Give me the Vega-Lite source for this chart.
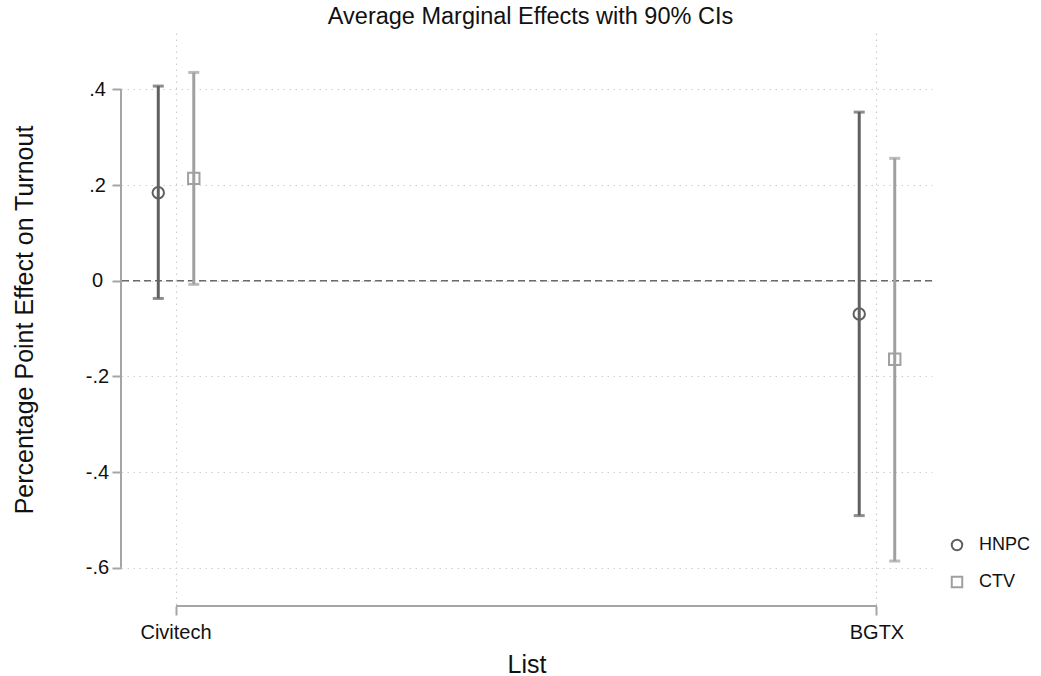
{
  "$schema": "https://vega.github.io/schema/vega-lite/v6.json",
  "autosize": "none",
  "padding": {"left": 121, "top": 33, "right": 109, "bottom": 70},
  "width": 811,
  "height": 573,
  "background": "white",
  "title": {
    "text": "Average Marginal Effects with 90% CIs",
    "fontSize": 23.5,
    "fontWeight": "normal",
    "color": "#111111",
    "anchor": "middle",
    "frame": "group",
    "offset": 5,
    "dx": 4
  },
  "config": {
    "font": "Liberation Sans",
    "view": {"stroke": null},
    "legend": {
      "title": null,
      "orient": "none",
      "legendX": 827,
      "legendY": 503,
      "padding": 0,
      "labelFontSize": 18,
      "labelColor": "#111111",
      "labelOffset": 13,
      "symbolSize": 110,
      "symbolStrokeWidth": 2,
      "rowPadding": 17
    }
  },
  "data": {
    "values": [
      {"list": "Civitech", "group": "HNPC", "est": 0.184, "lo": -0.037, "hi": 0.407},
      {"list": "Civitech", "group": "CTV", "est": 0.214, "lo": -0.0075, "hi": 0.4355},
      {"list": "BGTX", "group": "HNPC", "est": -0.0696, "lo": -0.491, "hi": 0.3526},
      {"list": "BGTX", "group": "CTV", "est": -0.164, "lo": -0.586, "hi": 0.256}
    ]
  },
  "encoding": {
    "x": {
      "field": "list",
      "type": "nominal",
      "sort": ["Civitech", "BGTX"],
      "scale": {"type": "band", "paddingInner": 0.843, "paddingOuter": 0},
      "axis": {
        "title": "List",
        "titleFontSize": 25,
        "titleFontWeight": "normal",
        "titleColor": "#111111",
        "titlePadding": 10,
        "labelAngle": 0,
        "labelFontSize": 20,
        "labelColor": "#111111",
        "labelPadding": 7,
        "domain": false,
        "tickColor": "#a5a5a5",
        "tickWidth": 2,
        "tickSize": 9,
        "bandPosition": 0.5,
        "grid": true,
        "gridColor": "#cdcdcd",
        "gridDash": [1.5, 4.5],
        "gridWidth": 1.2
      }
    },
    "xOffset": {
      "field": "group",
      "type": "nominal",
      "sort": ["HNPC", "CTV"],
      "scale": {"paddingInner": 0, "paddingOuter": 0.55}
    },
    "y": {
      "type": "quantitative",
      "scale": {"domain": [-0.68, 0.518], "nice": false, "zero": false},
      "axis": {
        "title": "Percentage Point Effect on Turnout",
        "titleFontSize": 25,
        "titleFontWeight": "normal",
        "titleColor": "#111111",
        "titlePadding": 48,
        "values": [-0.6, -0.4, -0.2, 0, 0.2, 0.4],
        "labelExpr": "datum.value == 0 ? '0' : (datum.value < 0 ? '-' : '') + '.' + abs(round(datum.value * 10))",
        "labelFontSize": 20,
        "labelColor": "#111111",
        "labelAlign": "center",
        "labelPadding": 15,
        "domain": false,
        "tickColor": "#a5a5a5",
        "tickWidth": 2,
        "tickSize": 9,
        "grid": true,
        "gridColor": "#cdcdcd",
        "gridDash": [1.5, 4.5],
        "gridWidth": 1.2
      }
    },
    "color": {
      "field": "group",
      "type": "nominal",
      "sort": ["HNPC", "CTV"],
      "scale": {"domain": ["HNPC", "CTV"], "range": ["#606060", "#a0a0a0"]},
      "legend": {
        "encode": {
          "symbols": {
            "update": {
              "fill": {"value": "transparent"},
              "strokeWidth": {"value": 2}
            }
          }
        }
      }
    }
  },
  "layer": [
    {
      "data": {"values": [{}]},
      "mark": {"type": "rule", "color": "#a5a5a5", "strokeWidth": 2},
      "encoding": {
        "x": {"datum": "Civitech", "type": "nominal", "bandPosition": 0},
        "xOffset": null,
        "color": null,
        "y": {"datum": -0.6, "type": "quantitative"},
        "y2": {"datum": 0.4}
      }
    },
    {
      "data": {"values": [{}]},
      "mark": {"type": "rule", "color": "#a5a5a5", "strokeWidth": 2},
      "encoding": {
        "x": {"datum": "Civitech", "type": "nominal", "bandPosition": 0.5},
        "x2": {"datum": "BGTX", "bandPosition": 0.5},
        "xOffset": null,
        "color": null,
        "y": {"datum": -0.68, "type": "quantitative"}
      }
    },
    {
      "data": {"values": [{}]},
      "mark": {"type": "rule", "color": "#6a6a6a", "strokeWidth": 1.5, "strokeDash": [7, 4]},
      "encoding": {
        "x": null,
        "xOffset": null,
        "color": null,
        "y": {"datum": 0, "type": "quantitative"}
      }
    },
    {
      "mark": {"type": "point", "filled": false, "strokeWidth": 2, "size": 130, "opacity": 1},
      "encoding": {
        "y": {"field": "est", "type": "quantitative"},
        "shape": {
          "field": "group",
          "type": "nominal",
          "sort": ["HNPC", "CTV"],
          "scale": {"domain": ["HNPC", "CTV"], "range": ["circle", "square"]}
        }
      }
    },
    {
      "mark": {"type": "rule", "strokeWidth": 3},
      "encoding": {
        "y": {"field": "lo", "type": "quantitative"},
        "y2": {"field": "hi"}
      }
    },
    {
      "mark": {"type": "tick", "size": 9, "thickness": 1, "strokeWidth": 2, "filled": false, "orient": "horizontal"},
      "encoding": {"y": {"field": "lo", "type": "quantitative"}}
    },
    {
      "mark": {"type": "tick", "size": 9, "thickness": 1, "strokeWidth": 2, "filled": false, "orient": "horizontal"},
      "encoding": {"y": {"field": "hi", "type": "quantitative"}}
    }
  ]
}
